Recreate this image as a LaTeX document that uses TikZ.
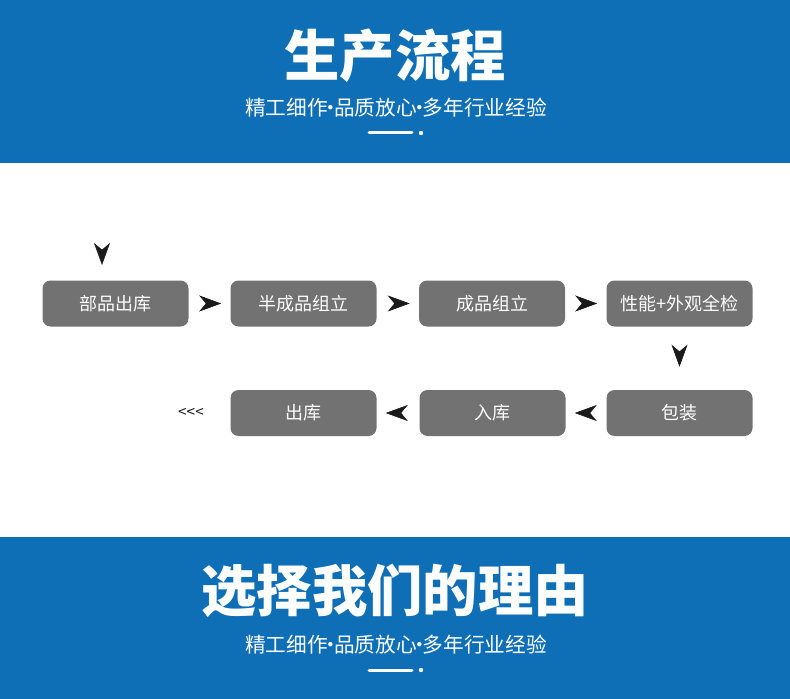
\documentclass[tikz,border=0pt]{standalone}
\usepackage{fontspec}
\setmainfont{Noto Sans CJK SC}
\usepackage{xcolor}
\usetikzlibrary{arrows.meta}
\definecolor{bandBlue}{HTML}{0F6FB6}
\definecolor{boxGray}{HTML}{727272}
\definecolor{arrowBlack}{HTML}{1A1A1A}
\newcommand{\sepdot}{\makebox[0.3em]{·}}

\begin{document}
\begin{tikzpicture}
[x=0.75pt, y=-0.75pt,
 bandDecorate/.style={fill=bandBlue},
 titleDecorate/.style={text=white, font=\bfseries\fontsize{41.5}{46}\selectfont},
 subDecorate/.style={text=white, font=\fontsize{15.5}{17}\selectfont},
 nodeDecorate/.style={shape=rectangle, rounded corners=6pt, fill=boxGray, text=white, minimum width=109.5pt, minimum height=34.5pt, font=\fontsize{13.5}{15}\selectfont},
 lineDecorate/.style={draw=white, -{Stealth[length=16.5pt, width=12pt, inset=5pt, color=arrowBlack]}}]

\useasboundingbox (0,0) rectangle (790,699);

 \foreach \bandname/\ytop/\ybot/\ytitle/\ysub/\yrule/\titletext in {
top/0/163/56/108/133/生产流程,
bottom/537/699/591/645/670/选择我们的理由
 }
 {
          \fill[bandDecorate] (0,\ytop) rectangle (790,\ybot);
          \node (title-\bandname) at (395,\ytitle) [titleDecorate] {\titletext};
          \node (sub-\bandname) at (396,\ysub) [subDecorate] {精工细作\sepdot 品质放心\sepdot 多年行业经验};
          \draw[white, line width=2.25pt, line cap=round] (369,\yrule) -- (412,\yrule);
          \fill[white] (421,\yrule) circle (2.2);
 }

 \foreach \nodename/\x/\y/\label in {
1/115.5/303.5/部品出库,
2/303.5/303.5/半成品组立,
3/492/303.5/成品组立,
4/679.5/303.5/性能+外观全检,
5/679.5/413/包装,
6/492.5/413/入库,
7/303.5/413/出库
 }
 {
          \node (T\nodename) at (\x,\y) [nodeDecorate] {\label};
 }

\coordinate (in) at (102,242);
\coordinate (inEnd) at (102,265);
\node (back) at (191,413) [text=arrowBlack, font=\fontsize{11.5}{13}\selectfont] {{<}{<}{<}};

\path
\foreach \startnode/\endnode in {1/2,2/3,3/4,5/6,6/7}
        {
          (T\startnode) edge[lineDecorate, shorten <=9pt, shorten >=6.75pt] node {} (T\endnode)
        }

(T4) edge[lineDecorate, shorten <=15.75pt, shorten >=17.25pt] node{} (T5)
(in) edge[lineDecorate] node{} (inEnd);
        \end{tikzpicture}
\end{document}
